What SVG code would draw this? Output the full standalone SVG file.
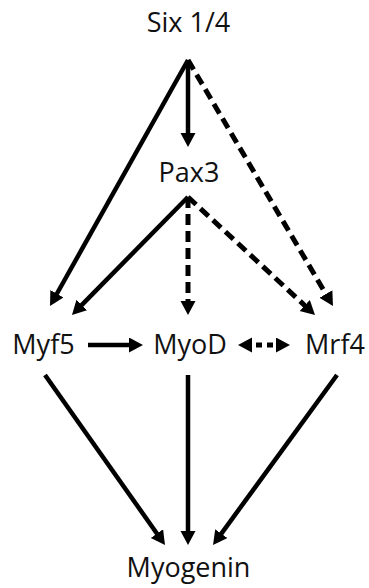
<svg xmlns="http://www.w3.org/2000/svg" width="369" height="588" viewBox="0 0 369 588">
<style>
.lbl{font-family:"Open Sans","Noto Sans",sans-serif;font-size:27px;fill:#111;text-anchor:middle}
.e{stroke:#000;stroke-width:4.5;fill:none;marker-end:url(#ah)}
.d{stroke-dasharray:11 6;stroke-width:5}
</style>
<defs>
<marker id="ah" markerUnits="userSpaceOnUse" markerWidth="16" markerHeight="16" refX="2" refY="7.5" orient="auto-start-reverse">
<path d="M0,0 L14,7.5 L0,15 z" fill="#000"/>
</marker>
</defs>
<rect width="369" height="588" fill="#fff"/>
<g id="connectors">
<path class="e" d="M188,60 L55.9,295.5"/>
<path class="e" d="M188,60 L188,135"/>
<path class="e d" d="M188,60 L326.9,295.7"/>
<path class="e" d="M188,197 L80.4,306.4"/>
<path class="e d" d="M188,197 L188,303"/>
<path class="e d" d="M188,197 L306.2,306.8"/>
<path class="e" d="M88,345 L131,345"/>
<path class="e" d="M250,345 L278,345" style="marker-start:url(#ah);stroke-dasharray:6 5;stroke-dashoffset:-6;stroke-width:5"/>
<path class="e" d="M45,375 L158.1,535.2"/>
<path class="e" d="M188,375 L188,533"/>
<path class="e" d="M337,375 L220.1,535.3"/>
</g>
<g id="six"><text class="lbl" x="188.5" y="32">Six 1/4</text></g>
<g id="pax3"><text class="lbl" x="189" y="182">Pax3</text></g>
<g id="myf5"><text class="lbl" x="43.5" y="354">Myf5</text></g>
<g id="myod"><text class="lbl" x="190" y="354">MyoD</text></g>
<g id="mrf4"><text class="lbl" x="335" y="354">Mrf4</text></g>
<g id="myogenin"><text class="lbl" x="188.5" y="577">Myogenin</text></g>
</svg>
